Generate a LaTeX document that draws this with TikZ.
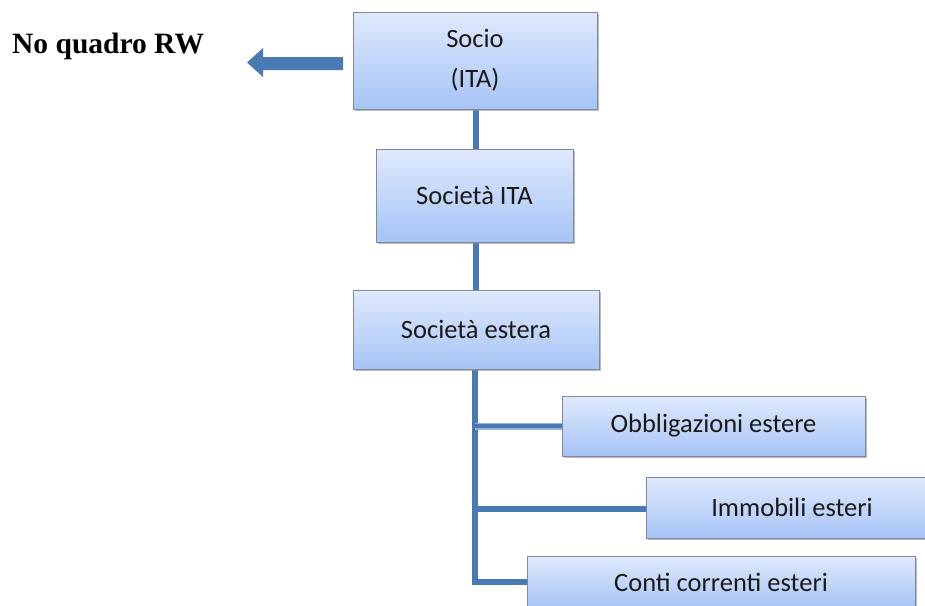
\documentclass[tikz,border=0pt]{standalone}
\usepackage{fontspec}
\setmainfont{Carlito}
\newfontfamily\tnr{Liberation Serif}
\usetikzlibrary{backgrounds,shadows}
\definecolor{boxtop}{RGB}{224,233,252}
\definecolor{boxbot}{RGB}{166,196,246}
\definecolor{boxline}{RGB}{128,138,155}
\definecolor{linkblue}{RGB}{74,122,180}
\definecolor{linklight}{RGB}{150,180,215}
\tikzset{
  orgbox/.style={rectangle, draw=boxline, line width=0.9pt, top color=boxtop, bottom color=boxbot,
    inner sep=0pt, align=center, font=\fontsize{26.5}{40}\selectfont, text=black!90,
    drop shadow={shadow xshift=1.5pt, shadow yshift=-2pt, fill=black!45, opacity=0.6}},
  link/.style={draw=linkblue, line width=5.5pt},
  linkb/.style={draw=linklight, line width=7pt},
  linkc/.style={draw=linkblue, line width=4pt},
}
\begin{document}
\begin{tikzpicture}[x=1pt,y=-1pt]
\useasboundingbox (0,0) rectangle (925,605);
\node[orgbox, minimum width=244pt, minimum height=97pt] (socio) at (475,60.5) {Socio\\(ITA)};
\node[orgbox, minimum width=197pt, minimum height=93pt] (ita) at (474.5,195.5) {Società ITA};
\node[orgbox, minimum width=246pt, minimum height=79pt] (estera) at (476,329.5) {Società estera};
\node[orgbox, minimum width=303pt, minimum height=60pt] (obbl) at (713.5,426) {Obbligazioni estere};
\node[orgbox, minimum width=292pt, minimum height=61pt] (immo) at (792,507.5) {Immobili esteri};
\node[orgbox, minimum width=388pt, minimum height=52pt] (conti) at (721,582) {Conti correnti esteri};
\node[font=\tnr\bfseries\fontsize{29.5}{32}\selectfont, anchor=base west, inner sep=0pt] (rw) at (12,53) {No quadro RW};
\coordinate (trunktop) at (475,370);
\coordinate (trunkbot) at (475,584.5);
\coordinate (jo) at (475,426);
\coordinate (ji) at (475,509);
\coordinate (jc) at (475,582);
\begin{scope}[on background layer]
  \draw[link] (socio.south -| 476,0) -- (ita.north -| 476,0);
  \draw[link] (ita.south -| 476,0) -- (estera.north -| 476,0);
  \draw[link] (trunktop) -- (trunkbot);
  \draw[linkb] (jo) -- (obbl.west |- jo);
  \draw[linkc] (jo) -- (obbl.west |- jo);
  \draw[link] (ji) -- (immo.west |- ji);
  \draw[link] (jc) -- (conti.west |- jc);
\end{scope}
\fill[linkblue] (343,57) -- (263,57) -- (263,48) -- (247,62.5) -- (263,77) -- (263,70) -- (343,70) -- cycle;
\end{tikzpicture}
\end{document}
